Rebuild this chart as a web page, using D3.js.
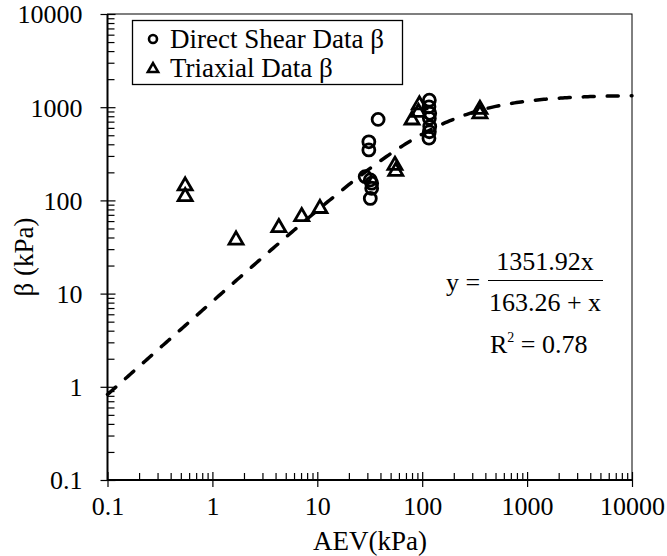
<!DOCTYPE html>
<html>
<head>
<meta charset="utf-8">
<script src="https://cdn.jsdelivr.net/npm/d3@7"></script>
<style>
  body { margin: 0; background: #fff; }
  text { font-family: "Liberation Serif" !important; fill: #000; }
</style>
</head>
<body>
<div id="chart"></div>
<script>
// tick values (log axes)
var aevTicks = [0.1, 1, 10, 100, 1000, 10000];
var betaTicks = [0.1, 1, 10, 100, 1000, 10000];

// direct shear points
var shearAEV  = [38, 31, 31, 28.6, 32, 33, 33, 32, 117, 116, 118, 117, 118, 117, 116];
var shearBeta = [740, 425, 348, 180, 166, 153, 135, 105, 1190, 1010, 860, 760, 620, 545, 465];

// triaxial points
var triaxAEV  = [0.55, 0.55, 1.68, 4.3, 7.1, 10.6, 55, 56, 80, 92, 94, 355, 355];
var triaxBeta = [143, 110, 37.6, 51, 67, 82, 238, 205, 730, 880, 1060, 950, 850];

// fitted hyperbola shown on the chart: y = a x / (b + x)
var fitA = 1351.92;
var fitB = 163.26;

var svgWidth = 667;
var svgHeight = 556;

var margin = { top: 14, right: 35, bottom: 76, left: 107.5 };
var width = svgWidth - margin.left - margin.right;
var height = svgHeight - margin.top - margin.bottom;

var svg = d3.select("#chart")
    .append("svg")
    .attr("width", svgWidth)
    .attr("height", svgHeight);

var chartGroup = svg.append("g")
    .attr("transform", `translate(${margin.left}, ${margin.top})`);

var xScale = d3.scaleLog().domain([0.1, 10000]).range([0, width]);
var yScale = d3.scaleLog().domain([0.1, 10000]).range([height, 0]);

// minor ticks for every decade
function minorTicks(majors) {
    var out = [];
    majors.forEach(function (m, i) {
        if (i === majors.length - 1) return;
        for (var k = 1; k <= 9; k++) out.push(m * k);
    });
    out.push(majors[majors.length - 1]);
    return out;
}

var fmt = function (d) { return d < 1 ? "0.1" : String(Math.round(d)); };

// thin frame on top / right
chartGroup.append("rect")
    .attr("width", width)
    .attr("height", height)
    .attr("fill", "none")
    .attr("stroke", "#000")
    .attr("stroke-width", 1);

// y axis: outward majors with labels
var yOut = chartGroup.append("g")
    .call(d3.axisLeft(yScale).tickValues(betaTicks).tickSize(7).tickPadding(18).tickFormat(fmt));
// y axis: inward majors + minors
var yIn = chartGroup.append("g")
    .call(d3.axisRight(yScale).tickValues(minorTicks(betaTicks)).tickSize(7).tickFormat(""));
yIn.selectAll(".tick line").filter(function (d) { return betaTicks.indexOf(d) >= 0; }).attr("x2", 8);

// x axis: outward majors with labels
var xOut = chartGroup.append("g")
    .attr("transform", `translate(0, ${height})`)
    .call(d3.axisBottom(xScale).tickValues(aevTicks).tickSize(7).tickFormat(fmt));
var xIn = chartGroup.append("g")
    .attr("transform", `translate(0, ${height})`)
    .call(d3.axisTop(xScale).tickValues(minorTicks(aevTicks)).tickSize(7).tickFormat(""));
xIn.selectAll(".tick line").filter(function (d) { return aevTicks.indexOf(d) >= 0; }).attr("y2", -8);

[yOut, yIn, xOut, xIn].forEach(function (g) {
    g.attr("font-size", 26);
    g.select(".domain").remove();
    g.selectAll(".tick line").attr("stroke", "#000").attr("stroke-width", 1.2);
    g.selectAll("text").attr("fill", "#000");
});
xOut.selectAll("text").attr("dy", "0").attr("y", 35);
yOut.selectAll("text").attr("dy", "0.34em");

// thick left and bottom axis lines
chartGroup.append("line")
    .attr("x1", 0).attr("x2", 0).attr("y1", 0).attr("y2", height)
    .attr("stroke", "#000").attr("stroke-width", 2);
chartGroup.append("line")
    .attr("x1", 0).attr("x2", width).attr("y1", height).attr("y2", height)
    .attr("stroke", "#000").attr("stroke-width", 2);

// fitted curve
var fitX = d3.range(-1, 4.001, 0.02).map(function (e) { return Math.pow(10, e); });
var fitLine = d3.line()
    .x(function (d) { return xScale(d); })
    .y(function (d) { return yScale(fitA * d / (fitB + d)); });

chartGroup.append("path")
    .datum(fitX)
    .attr("d", fitLine)
    .attr("fill", "none")
    .attr("stroke", "#000")
    .attr("stroke-width", 3.5)
    .attr("stroke-linecap", "round")
    .attr("stroke-dasharray", "11,13");

// triaxial triangles
var tri = d3.symbol().type(d3.symbolTriangle).size(85);
chartGroup.selectAll(".triax")
    .data(triaxAEV.map(function (a, i) { return [a, triaxBeta[i]]; }))
    .enter()
    .append("path")
    .attr("class", "triax")
    .attr("d", tri)
    .attr("transform", function (d) { return `translate(${xScale(d[0])}, ${yScale(d[1])})`; })
    .attr("fill", "none")
    .attr("stroke", "#000")
    .attr("stroke-width", 2.8);

// direct shear circles
chartGroup.selectAll(".shear")
    .data(shearAEV.map(function (a, i) { return [a, shearBeta[i]]; }))
    .enter()
    .append("circle")
    .attr("class", "shear")
    .attr("cx", function (d) { return xScale(d[0]); })
    .attr("cy", function (d) { return yScale(d[1]); })
    .attr("r", 6)
    .attr("fill", "none")
    .attr("stroke", "#000")
    .attr("stroke-width", 2.8);

// legend
var legend = svg.append("g");
legend.append("rect")
    .attr("x", 132.5).attr("y", 20.5)
    .attr("width", 270).attr("height", 64)
    .attr("fill", "#fff")
    .attr("stroke", "#000")
    .attr("stroke-width", 1.3);
legend.append("circle")
    .attr("cx", 153).attr("cy", 39).attr("r", 4)
    .attr("fill", "none").attr("stroke", "#000").attr("stroke-width", 2.6);
legend.append("path")
    .attr("d", d3.symbol().type(d3.symbolTriangle).size(45))
    .attr("transform", "translate(153, 69)")
    .attr("fill", "none").attr("stroke", "#000").attr("stroke-width", 2.6);
legend.append("text")
    .attr("x", 170).attr("y", 48)
    .attr("font-size", 27)
    .text("Direct Shear Data β");
legend.append("text")
    .attr("x", 170).attr("y", 77)
    .attr("font-size", 27)
    .text("Triaxial Data β");

// equation
var eq = svg.append("g").attr("font-size", 26);
eq.append("text").attr("x", 446).attr("y", 291).text("y =");
eq.append("line")
    .attr("x1", 488).attr("x2", 603).attr("y1", 280.5).attr("y2", 280.5)
    .attr("stroke", "#000").attr("stroke-width", 1.2);
eq.append("text").attr("x", 545).attr("y", 270).attr("text-anchor", "middle").text("1351.92x");
eq.append("text").attr("x", 545).attr("y", 311).attr("text-anchor", "middle").text("163.26 + x");
var r2 = eq.append("text").attr("x", 490).attr("y", 353);
r2.append("tspan").text("R");
r2.append("tspan").attr("dy", -11).attr("font-size", 14).text("2");
r2.append("tspan").attr("dy", 11).text(" = 0.78");

// axis titles
svg.append("text")
    .attr("x", 370)
    .attr("y", 550)
    .attr("text-anchor", "middle")
    .attr("font-size", 27)
    .text("AEV(kPa)");

svg.append("text")
    .attr("transform", "rotate(-90)")
    .attr("x", -257)
    .attr("y", 33)
    .attr("text-anchor", "middle")
    .attr("font-size", 27)
    .text("β (kPa)");
</script>
</body>
</html>
